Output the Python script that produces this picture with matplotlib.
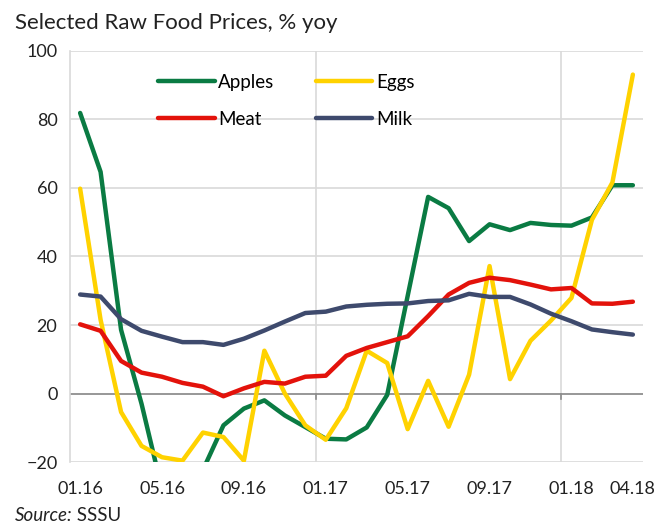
import matplotlib.pyplot as plt
import numpy as np

plt.rcParams['font.family'] = ['Lato', 'DejaVu Sans']

# monthly, 01.16 .. 04.18
months = ['01.16', '02.16', '03.16', '04.16', '05.16', '06.16', '07.16', '08.16',
          '09.16', '10.16', '11.16', '12.16', '01.17', '02.17', '03.17', '04.17',
          '05.17', '06.17', '07.17', '08.17', '09.17', '10.17', '11.17', '12.17',
          '01.18', '02.18', '03.18', '04.18']

apples = [81.9, 64.7, 18.6, -3.0, -28.0, -35.0, -22.3, -9.3, -4.4, -2.0,
          -6.4, -9.8, -13.2, -13.4, -9.9, -0.4, 28.5, 57.4, 54.1, 44.5,
          49.4, 47.7, 49.8, 49.2, 49.0, 51.4, 60.8, 60.8]
eggs = [59.8, 21.5, -5.4, -15.3, -18.6, -19.6, -11.4, -12.7, -19.6, 12.5,
        0.0, -9.3, -13.5, -4.3, 12.5, 8.9, -10.4, 3.7, -9.7, 5.5,
        37.2, 4.2, 15.4, 21.3, 27.9, 50.7, 61.6, 93.1]
meat = [20.2, 18.3, 9.5, 6.1, 4.9, 3.1, 2.0, -0.8, 1.5, 3.4,
        2.9, 4.9, 5.2, 11.0, 13.3, 15.0, 16.7, 22.6, 28.9, 32.3,
        33.8, 33.1, 31.8, 30.4, 30.8, 26.3, 26.2, 26.8]
milk = [28.9, 28.3, 21.7, 18.3, 16.6, 15.0, 15.0, 14.2, 16.0, 18.4,
        21.0, 23.5, 23.9, 25.4, 25.9, 26.2, 26.3, 27.0, 27.2, 29.1,
        28.2, 28.2, 26.0, 23.3, 21.1, 18.7, 17.9, 17.2]

tick_pos = [0, 4, 8, 12, 16, 20, 24, 27]

fig = plt.figure(figsize=(6.72, 5.27), dpi=100)
ax = fig.add_axes([0.104, 0.1233, 0.853, 0.780])

x = np.arange(len(months))
l_apl, = ax.plot(x, apples, color='#0a7b43', lw=3.2, label='Apples', solid_capstyle='round', zorder=3)
l_egg, = ax.plot(x, eggs, color='#ffd200', lw=3.2, label='Eggs', solid_capstyle='round', zorder=3)
l_mt, = ax.plot(x, meat, color='#e3120b', lw=3.2, label='Meat', solid_capstyle='round', zorder=3)
l_mlk, = ax.plot(x, milk, color='#3e4a6d', lw=3.2, label='Milk', solid_capstyle='round', zorder=3)

ax.set_xlim(-0.5, 27.5)
ax.set_ylim(-20, 100)
ax.set_yticks(np.arange(-20, 101, 20))
ax.set_xticks(tick_pos)
ax.set_xticklabels([months[i] for i in tick_pos])
ax.tick_params(axis='both', length=0, labelsize=13, colors='#222222')
ax.tick_params(axis='x', pad=14)
ax.tick_params(axis='y', pad=9)

# gridlines
for v in range(-20, 101, 20):
    ax.axhline(v, color='#d9d9d9', lw=1.2, zorder=1)
ax.axhline(0, color='#8c8c8c', lw=1.2, zorder=2)
for xv in [11.5, 23.5]:
    ax.axvline(xv, color='#d9d9d9', lw=1.2, zorder=1)
    ax.plot([xv, xv], [0, -1.5], color='#8c8c8c', lw=1.2, zorder=2)
for s in ['top', 'right', 'bottom']:
    ax.spines[s].set_visible(False)
ax.spines['left'].set_color('#d9d9d9')
ax.spines['left'].set_linewidth(1.2)

# row-wise legend: Apples/Eggs on top, Meat/Milk below
leg = ax.legend([l_apl, l_mt, l_egg, l_mlk], ['Apples', 'Meat', 'Eggs', 'Milk'],
                ncol=2, frameon=False, loc='upper left', bbox_to_anchor=(0.125, 0.985),
                fontsize=13.5, handlelength=3.0, handletextpad=0.2, columnspacing=2.2,
                labelspacing=1.05)

fig.text(0.022, 0.957, 'Selected Raw Food Prices, % yoy', fontsize=16, color='#222222',
         va='center')
t1 = fig.text(0.022, 0.022, 'Source:', fontsize=13.5, style='italic', color='#222222',
              va='center')
ax.annotate(' SSSU', xy=(1, 0.5), xycoords=t1, va='center', ha='left',
            fontsize=13.5, color='#222222', annotation_clip=False)

fig.savefig('out.png', dpi=100)
